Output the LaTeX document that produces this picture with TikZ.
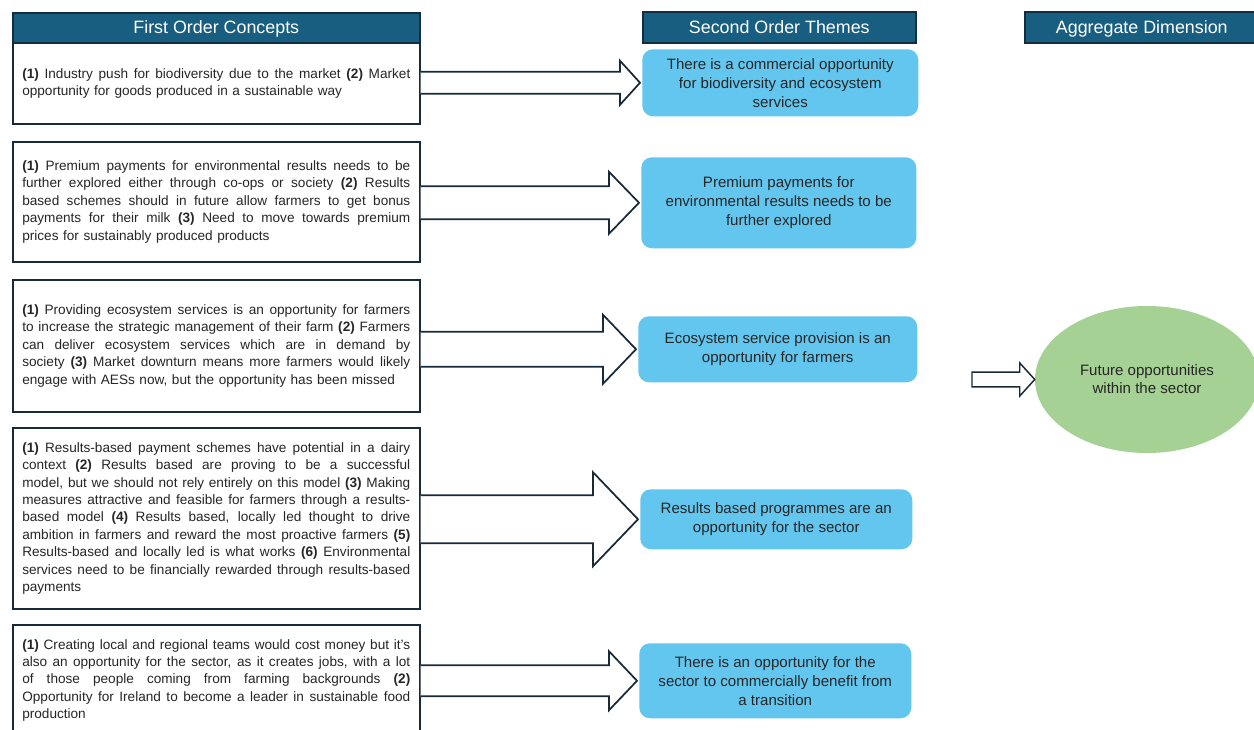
\documentclass[tikz,border=0pt]{standalone}
\usepackage{fontspec}
\setmainfont{Liberation Sans}
\usetikzlibrary{shapes.geometric,calc}

\definecolor{hdrfill}{RGB}{24,94,128}
\definecolor{hdrline}{RGB}{16,46,64}
\definecolor{boxline}{RGB}{24,42,56}
\definecolor{themefill}{RGB}{99,198,238}
\definecolor{dimfill}{RGB}{166,209,148}
\definecolor{txt}{RGB}{38,38,38}

% one fully justified line of a concept list (font spaces, so they can stretch)
\newcommand{\jline}[1]{\makebox[291pt][s]{\spaceskip=0pt\xspaceskip=0pt #1}\\}
\newcommand{\num}[1]{\textbf{(#1)}}

% block arrow from the right side of #1 to the left side of #2
% #3 shaft half-height, #4 head half-height, #5 head length (all in px)
\newcommand{\blockarrow}[5]{%
  \filldraw[arrowbody] let \p1=(#1.east), \p2=(#2.west) in
    (\x1,\y2+#3*0.75pt)
    -- (\x2-#5*0.75pt-1.5pt,\y2+#3*0.75pt)
    -- (\x2-#5*0.75pt-1.5pt,\y2+#4*0.75pt)
    -- (\x2-1.5pt,\y2)
    -- (\x2-#5*0.75pt-1.5pt,\y2-#4*0.75pt)
    -- (\x2-#5*0.75pt-1.5pt,\y2-#3*0.75pt)
    -- (\x1,\y2-#3*0.75pt);}

\begin{document}
\begin{tikzpicture}[x=0.75pt,y=-0.75pt,
  header/.style={draw=hdrline, line width=1.2pt, fill=hdrfill, anchor=north west,
    text=white, inner sep=0pt, text height=11.8pt, text depth=2.6pt,
    font=\fontsize{13.4}{16}\selectfont},
  concept/.style={draw=boxline, line width=1.2pt, fill=white, rectangle,
    anchor=north west, minimum width=305.25pt, text width=291pt, align=left,
    inner sep=0pt, text=txt, font=\fontsize{10.2}{13.05}\selectfont},
  theme/.style={fill=themefill, rounded corners=8pt, anchor=north west,
    align=center, inner sep=0pt, text=txt,
    font=\fontsize{11.3}{14.25}\selectfont},
  arrowbody/.style={fill=white, draw=boxline, line width=1.3pt, line join=miter}
]
\useasboundingbox (0,0) rectangle (1254,730);
\clip (0,0) rectangle (1254,730);
\fill[white] (0,0) rectangle (1254,730);

% first order concepts
\node[concept, minimum height=60.75pt] (c1) at (12,42) {%
\jline{\num{1} Industry push for biodiversity due to the market \num{2} Market}
opportunity for goods produced in a sustainable way};

\node[concept, minimum height=90pt] (c2) at (12,141) {%
\jline{\num{1} Premium payments for environmental results needs to be}
\jline{further explored either through co-ops or society \num{2} Results}
\jline{based schemes should in future allow farmers to get bonus}
\jline{payments for their milk \num{3} Need to move towards premium}
prices for sustainably produced products};

\node[concept, minimum height=99pt] (c3) at (12,279) {%
\jline{\num{1} Providing ecosystem services is an opportunity for farmers}
\jline{to increase the strategic management of their farm \num{2} Farmers}
\jline{can deliver ecosystem services which are in demand by}
\jline{society \num{3} Market downturn means more farmers would likely}
engage with AESs now, but the opportunity has been missed};

\node[concept, minimum height=135.75pt] (c4) at (12,427) {%
\jline{\num{1} Results-based payment schemes have potential in a dairy}
\jline{context \num{2} Results based are proving to be a successful}
\jline{model, but we should not rely entirely on this model \num{3} Making}
\jline{measures attractive and feasible for farmers through a results-}
\jline{based model \num{4} Results based, locally led thought to drive}
\jline{ambition in farmers and reward the most proactive farmers \num{5}}
\jline{Results-based and locally led is what works \num{6} Environmental}
\jline{services need to be financially rewarded through results-based}
payments};

\node[concept, minimum height=83.25pt] (c5) at (12,624) {%
\jline{\num{1} Creating local and regional teams would cost money but it's}
\jline{also an opportunity for the sector, as it creates jobs, with a lot}
\jline{of those people coming from farming backgrounds \num{2}}
\jline{Opportunity for Ireland to become a leader in sustainable food}
production};

% column headers
\node[header, minimum width=305.25pt, minimum height=22.5pt] (h1) at (12,12) {First Order Concepts};
\node[header, minimum width=204.75pt, minimum height=23.25pt] (h2) at (642,11) {Second Order Themes};
\node[header, minimum width=175.5pt, minimum height=23.25pt] (h3) at (1024,11) {Aggregate Dimension};

% second order themes
\node[theme, minimum width=207pt, minimum height=50.25pt] (t1) at (642,49)
  {There is a commercial opportunity\\for biodiversity and ecosystem\\services};
\node[theme, minimum width=206.25pt, minimum height=68.25pt] (t2) at (641,157)
  {Premium payments for\\environmental results needs to be\\further explored};
\node[theme, minimum width=209.25pt, minimum height=49.5pt] (t3) at (638,316)
  {Ecosystem service provision is an\\opportunity for farmers};
\node[theme, minimum width=204pt, minimum height=45pt] (t4) at (640,489)
  {Results based programmes are an\\opportunity for the sector};
\node[theme, minimum width=204pt, minimum height=56.25pt] (t5) at (639,643)
  {There is an opportunity for the\\sector to commercially benefit from\\a transition};

% aggregate dimension
\node[ellipse, fill=dimfill, minimum width=168pt, minimum height=110.25pt,
  inner sep=0pt, align=center, text=txt, font=\fontsize{11.3}{13.5}\selectfont]
  (dim) at (1147,379.5) {Future opportunities\\within the sector};

% arrows from concepts to themes
\blockarrow{c1}{t1}{11}{22}{20}
\blockarrow{c2}{t2}{16.5}{31}{30}
\blockarrow{c3}{t3}{17.5}{34.5}{33}
\blockarrow{c4}{t4}{24}{47}{45}
\blockarrow{c5}{t5}{15.5}{29.5}{28}

% arrow into the aggregate dimension
\coordinate (dimsrc) at (972,379.5);
\filldraw[arrowbody, line width=1.1pt] let \p1=(dimsrc), \p2=(dim.west) in
  (\x1,\y2+5.6pt) -- (\x2-11.25pt,\y2+5.6pt) -- (\x2-11.25pt,\y2+12.4pt)
  -- (\p2) -- (\x2-11.25pt,\y2-12.4pt) -- (\x2-11.25pt,\y2-5.6pt)
  -- (\x1,\y2-5.6pt) -- cycle;
\end{tikzpicture}
\end{document}
